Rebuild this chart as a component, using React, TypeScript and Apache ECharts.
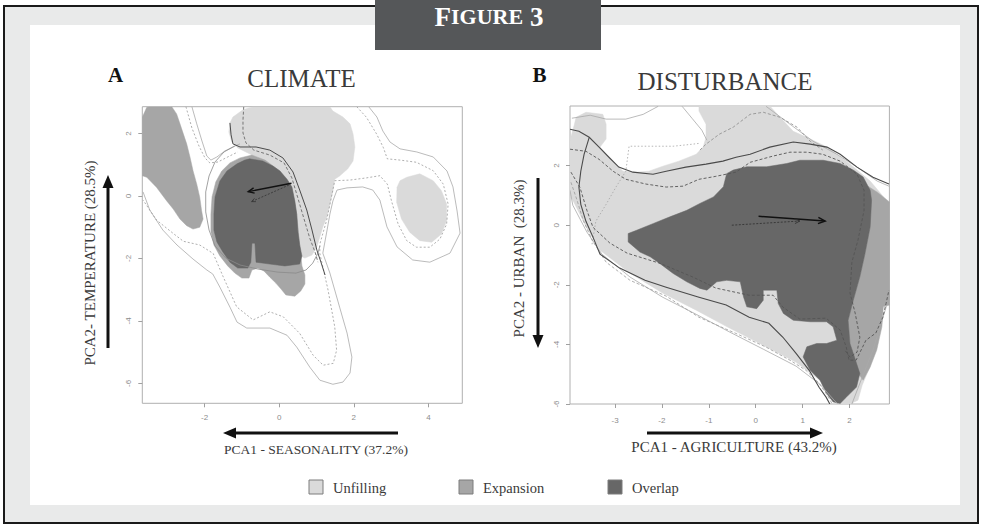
import React, { useEffect, useRef } from "react";
import * as echarts from "echarts";

type P = [number, number];

// ---------------- Panel A : CLIMATE ----------------
const climateXTicks = [-2, 0, 2, 4];
const climateYTicks = [2, 0, -2, -4, -6];

const climateExpansionWest: P[] = [
  [-3.47, 2.86], [-2.88, 2.86], [-2.75, 2.63], [-2.66, 2.31], [-2.57, 1.99], [-2.48, 1.67], [-2.39, 1.24],
  [-2.31, 0.81], [-2.21, 0.38], [-2.13, -0.04], [-2.08, -0.47], [-2.04, -0.74], [-2.13, -1.0], [-2.31, -1.06],
  [-2.48, -0.95], [-2.66, -0.74], [-2.84, -0.42], [-3.02, -0.15], [-3.29, 0.28], [-3.55, 0.6], [-3.67, 0.65],
  [-3.67, 2.52], [-3.55, 2.84],
];
const climateUnfilling: P[] = [
  [-1.32, 2.34], [-1.24, 2.53], [-0.97, 2.76], [-0.71, 2.86], [1.36, 2.86], [1.44, 2.72], [1.71, 2.53], [1.9, 2.31],
  [1.98, 1.99], [2.03, 1.57], [1.98, 1.12], [1.84, 0.87], [1.62, 0.64], [1.49, 0.54], [1.44, 0.16], [1.36, -0.26],
  [1.28, -0.67], [1.17, -0.99], [1.09, -1.31], [1.01, -1.63], [0.88, -1.89], [0.69, -1.99], [0.5, -1.89],
  [0.37, -1.25], [0.23, -0.45], [0.02, 0.35], [-0.3, 0.99], [-0.57, 1.22], [-0.84, 1.38], [-1.11, 1.54],
  [-1.27, 1.73], [-1.35, 2.05],
];
const climateUnfillingEast: P[] = [
  [3.42, 0.6], [3.77, 0.71], [4.13, 0.49], [4.35, 0.17], [4.49, -0.26], [4.49, -0.79], [4.35, -1.22], [4.09, -1.48],
  [3.77, -1.43], [3.5, -1.16], [3.28, -0.74], [3.15, -0.2], [3.16, 0.28], [3.24, 0.49],
];
const climateExpansion: P[] = [
  [-0.73, 1.31], [-1.05, 1.22], [-1.32, 1.06], [-1.54, 0.8], [-1.7, 0.45], [-1.8, -0.03], [-1.83, -0.58],
  [-1.83, -1.15], [-1.75, -1.57], [-1.59, -1.92], [-1.38, -2.24], [-1.19, -2.47], [-1.0, -2.63], [-0.81, -2.63],
  [-0.73, -2.37], [-0.57, -2.31], [-0.41, -2.4], [-0.25, -2.6], [-0.09, -2.79], [0.05, -2.98], [0.18, -3.17],
  [0.42, -3.21], [0.58, -3.04], [0.69, -2.82], [0.69, -2.53], [0.61, -2.24], [0.55, -1.57], [0.47, -0.58],
  [0.34, 0.29], [0.02, 0.8], [-0.38, 1.15],
];
const climateOverlap: P[] = [
  [-0.79, 1.19], [-0.44, 1.12], [-0.17, 0.96], [0.02, 0.8], [0.21, 0.54], [0.34, 0.29], [0.42, -0.16], [0.47, -0.58],
  [0.5, -1.12], [0.55, -1.57], [0.61, -1.92], [0.55, -2.18], [0.15, -2.24], [-0.25, -2.18], [-0.62, -2.12],
  [-0.65, -1.51], [-0.73, -1.51], [-0.76, -2.12], [-0.84, -2.31], [-1.11, -2.31], [-1.32, -2.12], [-1.51, -1.79],
  [-1.67, -1.47], [-1.75, -1.09], [-1.75, -0.58], [-1.72, -0.03], [-1.59, 0.48], [-1.4, 0.8], [-1.13, 1.03],
  [-0.92, 1.15],
];
const climateEnvOuter: P[] = [
  [-3.65, 0.13], [-3.47, -0.45], [-3.12, -1.09], [-2.74, -1.57], [-2.31, -2.02], [-1.94, -2.37], [-1.78, -2.5],
  [-1.59, -2.92], [-1.32, -3.56], [-1.13, -4.04], [-0.87, -4.23], [-0.25, -4.23], [0.21, -4.46], [0.47, -4.84],
  [0.82, -5.48], [1.09, -5.9], [1.44, -6.03], [1.71, -5.96], [1.9, -5.67], [1.95, -5.16], [1.82, -4.39],
  [1.62, -3.56], [1.36, -2.47], [1.17, -1.83], [1.28, -1.12], [1.36, -0.58], [1.44, -0.16], [1.55, 0.19],
  [1.82, 0.26], [2.24, 0.29], [2.51, 0.19], [2.7, -0.13], [2.89, -0.99], [3.16, -1.63], [3.58, -2.05],
  [4.04, -2.12], [4.58, -1.83], [4.85, -1.19], [4.77, -0.48], [4.66, 0.29], [4.5, 0.8], [4.13, 1.25], [3.69, 1.41],
  [3.24, 1.51], [2.97, 1.73], [2.78, 2.08], [2.62, 2.53], [2.4, 2.86],
];
const climateEnvOuterNorth: P[] = [
  [-2.34, 2.86], [-2.21, 2.31], [-2.07, 1.76], [-1.94, 1.28], [-1.83, 1.15], [-1.67, 1.25], [-1.46, 1.44],
  [-1.19, 1.6], [-1.05, 1.67],
];
const climateEnvInner: P[] = [
  [2.08, 2.86], [2.34, 2.52], [2.61, 1.99], [2.79, 1.56], [2.9, 1.19], [3.24, 1.15], [3.68, 1.08], [4.13, 0.81],
  [4.4, 0.38], [4.53, -0.26], [4.49, -0.9], [4.31, -1.38], [4.04, -1.64], [3.68, -1.64], [3.42, -1.43],
  [3.19, -0.9], [3.01, -0.15], [2.9, 0.38], [2.7, 0.65], [2.34, 0.58], [1.9, 0.51], [1.49, 0.49], [1.4, -0.04],
  [1.27, -0.79], [1.09, -1.54], [1.09, -1.84], [1.31, -3.01], [1.49, -4.19], [1.54, -4.94], [1.45, -5.36],
  [1.18, -5.42], [0.91, -5.1], [0.55, -4.4], [0.11, -3.87], [-0.25, -3.71], [-0.7, -3.97], [-1.14, -3.55],
  [-1.5, -2.59], [-1.77, -1.84], [-2.13, -1.57], [-2.57, -1.45], [-2.84, -1.2], [-3.29, -0.77], [-3.65, -0.13],
];
const climateEnvInnerNorth: P[] = [
  [-2.5, 2.86], [-2.34, 2.18], [-2.15, 1.6], [-1.99, 1.22], [-1.86, 1.06], [-1.64, 1.09], [-1.38, 1.25], [-1.11, 1.41],
];
const climateNativeSolid: P[] = [
  [-1.32, 2.34], [-1.29, 1.96], [-1.24, 1.67], [-1.05, 1.57], [-0.62, 1.57], [-0.25, 1.47], [0.1, 1.22],
  [0.37, 0.77], [0.55, 0.19], [0.74, -0.45], [0.88, -1.09], [1.01, -1.73], [1.12, -2.12], [1.23, -2.53],
];
const climateNativeDashed: P[] = [
  [-0.95, 2.86], [-0.97, 2.44], [-0.97, 2.02], [-0.89, 1.7], [-0.68, 1.47], [-0.25, 1.31], [0.13, 1.06],
  [0.34, 0.58], [0.5, -0.06], [0.66, -0.71], [0.82, -1.35], [0.96, -1.79], [1.04, -2.12],
];
const climateInvadedSolid: P[] = [
  [-1.19, 1.6], [-1.48, 1.41], [-1.72, 1.09], [-1.88, 0.64], [-1.97, 0.13], [-1.97, -0.51], [-1.88, -1.09],
  [-1.72, -1.6], [-1.43, -1.99], [-1.05, -2.21], [-0.57, -2.34], [-0.03, -2.44], [0.45, -2.47], [0.72, -2.37],
  [0.9, -2.15], [1.04, -1.83], [1.09, -1.6],
];
const climateShiftSolid: P[] = [[0.33, 0.41], [-0.83, 0.14]];
const climateShiftDashed: P[] = [[0.26, 0.35], [-0.74, -0.18]];

// ---------------- Panel B : DISTURBANCE ----------------
const disturbXTicks = [-3, -2, -1, 0, 1, 2];
const disturbYTicks = [2, 0, -2, -4, -6];

const disturbUnfilling: P[] = [
  [-3.83, 3.62], [-3.62, 3.79], [-3.26, 3.72], [-3.19, 3.39], [-3.19, 2.89], [-3.32, 2.62], [-3.13, 2.28],
  [-2.83, 1.81], [-2.55, 1.78], [-2.28, 1.81], [-1.98, 1.98], [-1.64, 2.15], [-1.27, 2.38], [-1.12, 2.62],
  [-1.06, 2.95], [-1.06, 3.39], [-1.21, 3.83], [-1.21, 4.0], [0.3, 4.0], [0.52, 3.62], [0.8, 3.15], [1.09, 2.95],
  [1.52, 2.62], [2.01, 2.05], [2.44, 1.48], [2.8, 0.81], [2.65, -0.17], [2.54, -2.52], [2.44, -4.73],
  [2.27, -5.37], [2.18, -5.87], [2.01, -6.0], [1.75, -6.0], [1.67, -5.74], [1.37, -5.2], [0.86, -4.6],
  [0.16, -4.03], [-0.55, -3.46], [-1.27, -2.85], [-1.98, -2.28], [-2.68, -1.61], [-3.32, -0.84], [-3.6, -0.1],
  [-3.9, 0.84], [-3.96, 1.01], [-3.96, 2.85], [-3.87, 3.36],
];
const disturbExpansion: P[] = [
  [2.4, 1.3], [2.6, 1.1], [2.85, 0.78], [2.85, -2.68], [2.72, -2.74], [2.69, -3.41], [2.58, -4.19], [2.44, -4.76],
  [2.29, -5.2], [2.19, -4.98], [2.01, -3.97], [1.97, -3.19], [2.08, -2.52], [2.22, -1.73], [2.33, -0.95],
  [2.44, -0.06], [2.4, 1.17],
];
const disturbOverlap: P[] = [
  [-2.72, -0.28], [-2.72, -0.56], [-2.47, -0.9], [-2.25, -1.06], [-2.04, -1.29], [-1.76, -1.62], [-1.47, -1.9],
  [-1.19, -2.12], [-1.04, -2.18], [-0.83, -1.9], [-0.62, -1.85], [-0.33, -1.9], [-0.26, -2.41], [-0.19, -2.74],
  [0.02, -2.8], [0.16, -2.52], [0.16, -2.18], [0.45, -2.18], [0.48, -2.63], [0.59, -2.96], [0.8, -3.19],
  [1.16, -3.24], [1.51, -3.24], [1.65, -3.41], [1.73, -3.86], [1.51, -3.97], [1.3, -3.97], [1.09, -4.08],
  [1.01, -4.42], [1.16, -4.87], [1.37, -5.2], [1.51, -5.65], [1.65, -5.93], [1.8, -5.98], [1.94, -5.76],
  [2.15, -5.43], [2.22, -4.98], [2.01, -3.97], [1.97, -3.19], [2.08, -2.52], [2.22, -1.73], [2.33, -0.95],
  [2.44, -0.06], [2.47, 0.84], [2.44, 1.17], [2.29, 1.62], [2.08, 1.85], [1.8, 2.07], [1.44, 2.18], [0.94, 2.18],
  [0.66, 2.07], [0.23, 1.96], [-0.19, 1.96], [-0.48, 1.85], [-0.62, 1.73], [-0.69, 1.29], [-0.9, 0.95],
  [-1.19, 0.73], [-1.47, 0.5], [-1.83, 0.28], [-2.18, 0.06], [-2.54, -0.17],
];
const disturbEnvOuterSouth: P[] = [
  [-3.96, 1.17], [-3.9, 0.67], [-3.6, -0.23], [-3.28, -0.97], [-2.68, -1.74], [-1.98, -2.42], [-1.27, -2.99],
  [-0.55, -3.59], [0.16, -4.16], [0.86, -4.73], [1.37, -5.34], [1.67, -5.87], [1.75, -6.0],
];
const disturbEnvOuterEast: P[] = [[2.05, -6.0], [2.27, -5.1], [2.5, -4.19], [2.78, -2.75], [2.84, -2.18]];
const disturbEnvOuterNorthWest: P[] = [
  [-3.92, 3.59], [-3.53, 3.69], [-3.19, 3.56], [-2.77, 3.56], [-2.4, 3.72], [-2.08, 3.99],
];
const disturbEnvOuterNorth: P[] = [[-1.57, 3.99], [-1.36, 3.59], [-1.15, 3.19], [-1.04, 2.85]];
const disturbEnvOuterNorthEast: P[] = [
  [0.22, 3.99], [0.73, 3.39], [1.22, 2.82], [1.73, 2.38], [2.16, 1.95], [2.59, 1.48], [2.84, 1.31],
];
const disturbNativeSolidNorth: P[] = [
  [-3.96, 3.22], [-3.77, 3.15], [-3.55, 2.95], [-3.34, 2.62], [-3.13, 2.28], [-2.92, 1.95], [-2.62, 1.78],
  [-2.19, 1.71], [-1.91, 1.81], [-1.49, 1.95], [-1.06, 2.05], [-0.7, 2.15], [-0.42, 2.28], [-0.12, 2.38],
  [0.3, 2.62], [0.8, 2.79], [1.16, 2.72], [1.52, 2.62], [1.8, 2.38], [2.16, 1.95], [2.5, 1.61], [2.84, 1.38],
];
const disturbNativeSolidSouth: P[] = [
  [-3.55, 2.95], [-3.66, 2.38], [-3.73, 1.81], [-3.77, 1.28], [-3.73, 0.7], [-3.62, 0.13], [-3.47, -0.4],
  [-3.32, -0.97], [-2.9, -1.44], [-2.36, -1.85], [-1.91, -2.08], [-1.21, -2.42], [-0.63, -2.68], [-0.14, -3.09],
  [0.28, -3.29], [0.58, -3.76], [0.86, -4.3], [1.14, -4.87], [1.35, -5.44], [1.5, -5.77], [1.58, -6.0],
];
const disturbNativeDashedNorth: P[] = [
  [-3.96, 2.55], [-3.62, 2.48], [-3.34, 2.21], [-3.04, 1.81], [-2.77, 1.54], [-2.34, 1.38], [-1.91, 1.28],
  [-1.55, 1.31], [-1.21, 1.54], [-0.85, 1.64], [-0.42, 1.78], [-0.12, 2.11], [0.37, 2.32], [0.73, 2.45],
  [1.09, 2.45], [1.43, 2.38], [1.8, 2.15], [2.16, 1.71], [2.31, 1.17], [2.31, 0.5], [2.18, -0.5], [2.05, -1.24],
  [2.01, -2.28], [2.12, -2.95], [2.22, -3.76], [2.16, -4.26], [2.01, -4.43], [1.9, -4.19],
];
const disturbNativeDashedSouth: P[] = [
  [-3.94, 1.78], [-3.75, 1.28], [-3.6, 0.5], [-3.47, -0.07], [-3.11, -0.6], [-2.74, -0.94], [-2.04, -1.28],
  [-1.34, -1.74], [-0.85, -2.11], [-0.14, -2.35], [0.37, -2.35], [0.58, -2.75], [0.94, -3.15], [1.5, -3.12],
  [1.8, -3.52], [1.93, -4.09], [1.99, -4.53], [2.14, -4.53], [2.35, -3.86], [2.56, -3.62], [2.71, -3.09],
  [2.78, -2.62], [2.84, -2.18],
];
const disturbEnvDashed: P[] = [
  [-3.94, 1.44], [-3.81, 0.84], [-3.68, 0.17], [-3.49, -0.5], [-3.19, -1.24], [-2.68, -1.85], [-1.91, -2.38],
  [-1.21, -3.09], [-0.44, -3.62], [0.22, -4.09], [0.73, -4.53], [1.07, -4.87], [1.35, -5.3], [1.54, -5.74],
  [1.63, -6.0],
];
const disturbEnvDottedWest: P[] = [
  [-3.49, -0.64], [-3.41, 0.13], [-3.19, 0.7], [-2.98, 1.28], [-2.77, 1.81], [-2.7, 2.65], [-2.28, 2.65],
  [-1.76, 2.65], [-1.34, 2.72], [-1.19, 2.75],
];
const disturbEnvDashedNorth: P[] = [
  [-1.19, 2.52], [-1.06, 2.72], [-0.78, 3.05], [-0.48, 3.29], [-0.12, 3.72], [0.16, 3.79], [0.52, 3.62],
  [0.88, 3.29], [1.16, 2.82], [1.43, 2.52],
];
const disturbShiftSolid: P[] = [[0.06, 0.3], [1.48, 0.14]];
const disturbShiftDashed: P[] = [[-0.51, 0.0], [0.94, 0.14]];

// ---------------- legend ----------------
const legendNames = ["Unfilling", "Expansion", "Overlap"];
const legendColors = ["#dadada", "#a6a6a6", "#676767"];

const SERIF = "'Liberation Serif', 'DejaVu Serif', serif";
const SANS = "'Liberation Sans', 'DejaVu Sans', sans-serif";
const C_UNF = legendColors[0];
const C_EXP = legendColors[1];
const C_OVL = legendColors[2];

let zc = 3;
function area(gi: number, pts: P[], fill: string) {
  return {
    type: "custom",
    xAxisIndex: gi,
    yAxisIndex: gi,
    coordinateSystem: "cartesian2d",
    clip: true,
    silent: true,
    z: zc++,
    data: [[0, 0]],
    renderItem: (_p: any, api: any) => ({
      type: "polygon",
      shape: { points: pts.map((p) => api.coord(p)) },
      style: { fill, stroke: fill, lineWidth: 0.5 },
    }),
  };
}
function line(gi: number, pts: P[], stroke: string, width: number, dash?: number[]) {
  return {
    type: "custom",
    xAxisIndex: gi,
    yAxisIndex: gi,
    coordinateSystem: "cartesian2d",
    clip: true,
    silent: true,
    z: zc++,
    data: [[0, 0]],
    renderItem: (_p: any, api: any) => ({
      type: "polyline",
      shape: { points: pts.map((p) => api.coord(p)) },
      style: { stroke, lineWidth: width, fill: null, lineDash: dash || null },
    }),
  };
}
function arrow(gi: number, pts: P[], stroke: string, width: number, head: number, dash?: number[]) {
  return {
    type: "custom",
    xAxisIndex: gi,
    yAxisIndex: gi,
    coordinateSystem: "cartesian2d",
    clip: true,
    silent: true,
    z: zc++,
    data: [[0, 0]],
    renderItem: (_p: any, api: any) => {
      const a = api.coord(pts[0]);
      const b = api.coord(pts[1]);
      const ang = Math.atan2(b[1] - a[1], b[0] - a[0]);
      const bx = b[0] - head * Math.cos(ang);
      const by = b[1] - head * Math.sin(ang);
      const nx = -Math.sin(ang) * head * 0.45;
      const ny = Math.cos(ang) * head * 0.45;
      return {
        type: "group",
        children: [
          { type: "polyline", shape: { points: [a, b] }, style: { stroke, lineWidth: width, fill: null, lineDash: dash || null } },
          { type: "polyline", shape: { points: [[bx + nx, by + ny], b, [bx - nx, by - ny]] }, style: { stroke, lineWidth: width, fill: null } },
        ],
      };
    },
  };
}

function xAxisCfg(gi: number, min: number, max: number, ticks: number[], margin: number) {
  return {
    type: "value", gridIndex: gi, min, max, position: "bottom",
    axisLine: { show: false, onZero: false },
    splitLine: { show: false },
    axisTick: { show: true, inside: false, length: 4, lineStyle: { color: "#a0a0a0", width: 1 }, customValues: ticks },
    axisLabel: { show: true, customValues: ticks, fontSize: 8, color: "#8c8c8c", fontFamily: SANS, margin },
  };
}
function yAxisCfg(gi: number, min: number, max: number, ticks: number[], margin: number) {
  return {
    type: "value", gridIndex: gi, min, max, position: "left",
    axisLine: { show: false, onZero: false },
    splitLine: { show: false },
    axisTick: { show: true, inside: false, length: 4, lineStyle: { color: "#a0a0a0", width: 1 }, customValues: ticks },
    axisLabel: { show: true, customValues: ticks, fontSize: 8, color: "#8c8c8c", fontFamily: SANS, margin, rotate: 90 },
  };
}

function bigArrow(x1: number, y1: number, x2: number, y2: number) {
  const ang = Math.atan2(y2 - y1, x2 - x1);
  const L = 13, W = 5.5;
  const bx = x2 - L * Math.cos(ang), by = y2 - L * Math.sin(ang);
  const nx = -Math.sin(ang) * W, ny = Math.cos(ang) * W;
  return [
    { type: "line", z: 50, shape: { x1, y1, x2: bx + Math.cos(ang) * 2, y2: by + Math.sin(ang) * 2 }, style: { stroke: "#111", lineWidth: 3 } },
    { type: "polygon", z: 50, shape: { points: [[x2, y2], [bx + nx, by + ny], [bx - nx, by - ny]] }, style: { fill: "#111" } },
  ];
}

function textEl(text: string, x: number, y: number, size: number, opts: any = {}) {
  return {
    type: "text", z: 50, x, y, rotation: opts.rotation || 0,
    style: {
      text, fontSize: size, fontFamily: SERIF, fontWeight: opts.bold ? "bold" : "normal",
      fill: opts.color || "#3a3a3a", align: opts.align || "center", verticalAlign: "middle",
    },
  };
}

function buildOption() {
  zc = 3;
  const series: any[] = [
    area(0, climateUnfilling, C_UNF),
    area(0, climateUnfillingEast, C_UNF),
    area(0, climateExpansionWest, C_EXP),
    area(0, climateExpansion, C_EXP),
    area(0, climateOverlap, C_OVL),
    line(0, climateEnvOuter, "#a9a9a9", 0.8),
    line(0, climateEnvOuterNorth, "#a9a9a9", 0.8),
    line(0, climateEnvInner, "#9a9a9a", 0.8, [2, 2]),
    line(0, climateEnvInnerNorth, "#9a9a9a", 0.8, [2, 2]),
    line(0, climateInvadedSolid, "#8a8a8a", 0.8),
    line(0, climateNativeSolid, "#4a4a4a", 1),
    line(0, climateNativeDashed, "#6a6a6a", 0.9, [3, 2]),
    arrow(0, climateShiftSolid, "#111", 1.4, 6),
    arrow(0, climateShiftDashed, "#333", 0.8, 4, [2, 1.5]),

    area(1, disturbUnfilling, C_UNF),
    area(1, disturbExpansion, C_EXP),
    area(1, disturbOverlap, C_OVL),
    line(1, disturbEnvOuterSouth, "#a9a9a9", 0.8),
    line(1, disturbEnvOuterEast, "#a9a9a9", 0.8),
    line(1, disturbEnvOuterNorthWest, "#a9a9a9", 0.8),
    line(1, disturbEnvOuterNorth, "#a9a9a9", 0.8),
    line(1, disturbEnvOuterNorthEast, "#a9a9a9", 0.8),
    line(1, disturbEnvDashed, "#9a9a9a", 0.8, [3, 2]),
    line(1, disturbEnvDottedWest, "#a5a5a5", 0.8, [1.5, 2]),
    line(1, disturbEnvDashedNorth, "#8a8a8a", 0.8, [3, 2]),
    line(1, disturbNativeSolidNorth, "#4a4a4a", 1.1),
    line(1, disturbNativeSolidSouth, "#4a4a4a", 1.1),
    line(1, disturbNativeDashedNorth, "#555", 0.9, [3, 2]),
    line(1, disturbNativeDashedSouth, "#555", 0.9, [3, 2]),
    arrow(1, disturbShiftSolid, "#111", 1.5, 7),
    arrow(1, disturbShiftDashed, "#333", 0.9, 5, [2, 1.5]),
  ];

  const legendX = [309, 459, 608];
  const legendEls: any[] = [];
  legendNames.forEach((n, i) => {
    legendEls.push({ type: "rect", z: 50, shape: { x: legendX[i], y: 480, width: 14, height: 14 }, style: { fill: legendColors[i], stroke: "#7d7d7d", lineWidth: 1 } });
    legendEls.push(textEl(n, legendX[i] + 24, 487.5, 14.5, { align: "left" }));
  });

  const graphic: any[] = [
    { type: "rect", z: -10, shape: { x: 4, y: 6, width: 974, height: 517 }, style: { fill: "#e9eaea", stroke: "#1a1a1a", lineWidth: 2 } },
    { type: "rect", z: -9, shape: { x: 30, y: 25, width: 930, height: 480 }, style: { fill: "#ffffff" } },
    { type: "rect", z: -8, shape: { x: 375, y: 0, width: 226, height: 50 }, style: { fill: "#555759" } },
    {
      type: "text", z: 60, x: 489, y: 30,
      style: {
        text: "{a|F}{b|IGURE}{a| 3}",
        align: "center", verticalAlign: "bottom", fill: "#ffffff",
        rich: {
          a: { fontSize: 27, fontFamily: SERIF, fontWeight: "bold", fill: "#ffffff" },
          b: { fontSize: 22, fontFamily: SERIF, fontWeight: "bold", fill: "#ffffff" },
        },
      },
    },
    textEl("A", 115.5, 75, 21, { bold: true, color: "#111" }),
    textEl("CLIMATE", 301.5, 78.5, 25),
    textEl("B", 539.5, 74.5, 21, { bold: true, color: "#111" }),
    textEl("DISTURBANCE", 725, 81.5, 25),
    textEl("PCA1 - SEASONALITY (37.2%)", 316, 449, 13.5),
    textEl("PCA2- TEMPERATURE (28.5%)", 90, 263, 15, { rotation: Math.PI / 2 }),
    textEl("PCA1 - AGRICULTURE (43.2%)", 734, 447, 15),
    textEl("PCA2 - URBAN  (28.3%)", 518.5, 258.5, 15, { rotation: Math.PI / 2 }),
    ...bigArrow(108, 348, 108, 175),
    ...bigArrow(398, 433, 223, 433),
    ...bigArrow(538, 178, 538, 348),
    ...bigArrow(647, 433, 823, 433),
    ...legendEls,
  ];

  return {
    animation: false,
    backgroundColor: "transparent",
    grid: [
      { left: 142.3, top: 106.7, width: 320, height: 296.6, show: true, borderColor: "#b0b0b0", borderWidth: 1, backgroundColor: "transparent" },
      { left: 570, top: 106, width: 319.4, height: 298, show: true, borderColor: "#b0b0b0", borderWidth: 1, backgroundColor: "transparent" },
    ],
    xAxis: [xAxisCfg(0, -3.67, 4.91, climateXTicks, 10), xAxisCfg(1, -3.96, 2.85, disturbXTicks, 12)],
    yAxis: [yAxisCfg(0, -6.64, 2.86, climateYTicks, 10), yAxisCfg(1, -6, 4, disturbYTicks, 10)],
    series,
    graphic,
  };
}

export default function App() {
  const ref = useRef<HTMLDivElement>(null);
  useEffect(() => {
    const chart = echarts.init(ref.current!, undefined, { renderer: "svg", width: 982, height: 528 });
    chart.setOption(buildOption() as any);
    return () => chart.dispose();
  }, []);
  return <div ref={ref} style={{ position: "absolute", left: 0, top: 0, width: 982, height: 528 }} />;
}
